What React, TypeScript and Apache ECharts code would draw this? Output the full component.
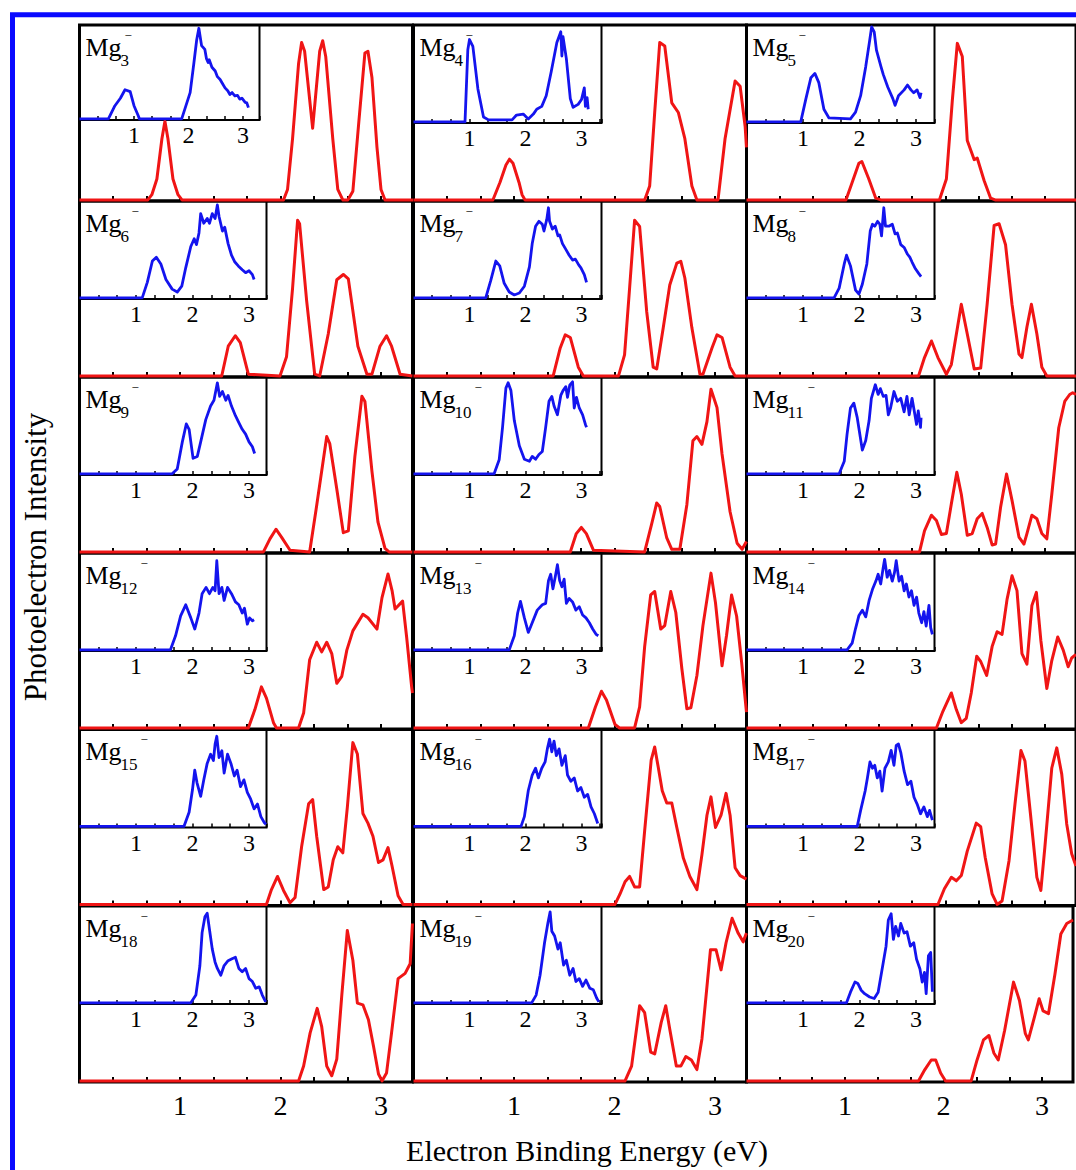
import React, { useEffect, useRef } from 'react';
import * as echarts from 'echarts';

// ---------- data (x: eV, y: relative intensity) ----------
const CLUSTERS = [3, 4, 5, 6, 7, 8, 9, 10, 11, 12, 13, 14, 15, 16, 17, 18, 19, 20];
const AXIS_TICK_LABELS = ['1', '2', '3'];
const X_TITLE = 'Electron Binding Energy (eV)';
const Y_TITLE = 'Photoelectron Intensity';

const RED_MG3 = [[0,0],[0.68,0],[0.72,0.03],[0.77,0.12],[0.82,0.35],[0.85,0.45],[0.88,0.35],[0.93,0.12],[0.98,0.03],[1.02,0],[2.03,0],[2.07,0.06],[2.12,0.35],[2.18,0.78],[2.21,0.9],[2.24,0.85],[2.32,0.41],[2.39,0.85],[2.42,0.91],[2.45,0.82],[2.52,0.35],[2.57,0.06],[2.62,0],[2.67,0],[2.72,0.05],[2.78,0.45],[2.84,0.84],[2.87,0.85],[2.91,0.7],[2.96,0.3],[3.0,0.06],[3.04,0],[3.32,0]];
const RED_MG4 = [[0,0],[0.79,0],[0.86,0.1],[0.92,0.2],[0.955,0.233],[0.99,0.21],[1.05,0.1],[1.08,0.03],[1.11,0],[2.3,0],[2.35,0.08],[2.4,0.5],[2.45,0.9],[2.5,0.88],[2.57,0.555],[2.635,0.5],[2.7,0.35],[2.77,0.08],[2.82,0],[3.03,0],[3.1,0.35],[3.2,0.68],[3.25,0.65],[3.3,0.42],[3.313,0.3]];
const RED_MG5 = [[0,0],[1.0,0],[1.05,0.08],[1.13,0.21],[1.16,0.22],[1.23,0.12],[1.3,0.01],[1.35,0],[1.94,0],[2.01,0.12],[2.07,0.57],[2.12,0.895],[2.17,0.82],[2.22,0.34],[2.29,0.23],[2.32,0.24],[2.39,0.11],[2.455,0.01],[2.5,0],[3.313,0]];
const RED_MG6 = [[0,0],[1.415,0],[1.48,0.17],[1.55,0.23],[1.6,0.19],[1.68,0.01],[1.995,0],[2.06,0.11],[2.12,0.5],[2.17,0.89],[2.19,0.87],[2.26,0.43],[2.34,0.01],[2.39,0],[2.475,0.24],[2.56,0.55],[2.625,0.58],[2.675,0.555],[2.77,0.17],[2.86,0.01],[2.91,0.01],[2.99,0.17],[3.055,0.23],[3.105,0.17],[3.19,0.01],[3.313,0]];
const RED_MG7 = [[0,0],[1.39,0],[1.46,0.16],[1.51,0.235],[1.56,0.22],[1.64,0.05],[1.69,0],[2.04,0],[2.1,0.12],[2.15,0.5],[2.2,0.89],[2.25,0.855],[2.32,0.37],[2.385,0.05],[2.42,0.04],[2.485,0.275],[2.55,0.52],[2.62,0.645],[2.66,0.655],[2.7,0.56],[2.77,0.275],[2.85,0.01],[2.88,0.01],[2.97,0.16],[3.02,0.235],[3.07,0.22],[3.15,0.05],[3.2,0],[3.313,0]];
const RED_MG8 = [[0,0],[1.73,0],[1.79,0.105],[1.86,0.2],[1.925,0.105],[2.01,0.01],[2.06,0.065],[2.16,0.41],[2.22,0.24],[2.29,0.04],[2.355,0.045],[2.42,0.41],[2.49,0.86],[2.54,0.87],[2.605,0.75],[2.67,0.41],[2.74,0.125],[2.77,0.105],[2.82,0.28],[2.865,0.41],[2.92,0.24],[2.97,0.05],[3.02,0],[3.313,0]];
const RED_MG9 = [[0,0],[1.83,0],[1.895,0.075],[1.955,0.13],[2.01,0.085],[2.095,0.01],[2.29,0],[2.36,0.265],[2.46,0.66],[2.49,0.62],[2.56,0.36],[2.625,0.11],[2.675,0.12],[2.74,0.545],[2.81,0.89],[2.84,0.86],[2.91,0.46],[2.97,0.17],[3.04,0.02],[3.08,0],[3.313,0]];
const RED_MG10 = [[0,0],[1.56,0],[1.62,0.105],[1.67,0.14],[1.72,0.105],[1.79,0.01],[2.3,0],[2.37,0.16],[2.42,0.28],[2.45,0.26],[2.52,0.08],[2.57,0.015],[2.65,0.015],[2.72,0.27],[2.78,0.635],[2.82,0.66],[2.87,0.615],[2.92,0.745],[2.96,0.93],[3.02,0.825],[3.07,0.56],[3.15,0.23],[3.22,0.05],[3.27,0.015],[3.313,0.06]];
const RED_MG11 = [[0,0],[1.74,0],[1.79,0.12],[1.86,0.21],[1.91,0.18],[1.96,0.1],[2.01,0.105],[2.06,0.275],[2.115,0.455],[2.16,0.33],[2.22,0.095],[2.27,0.105],[2.32,0.19],[2.37,0.22],[2.42,0.14],[2.47,0.04],[2.505,0.045],[2.555,0.255],[2.615,0.445],[2.67,0.295],[2.74,0.085],[2.79,0.045],[2.82,0.105],[2.87,0.21],[2.92,0.19],[2.97,0.105],[3.02,0.075],[3.07,0.33],[3.14,0.71],[3.2,0.86],[3.25,0.9],[3.28,0.91],[3.313,0.9]];
const RED_MG12 = [[0,0],[1.68,0],[1.745,0.105],[1.81,0.235],[1.86,0.17],[1.93,0.03],[1.96,0],[2.18,0],[2.23,0.085],[2.29,0.39],[2.36,0.49],[2.41,0.435],[2.46,0.49],[2.51,0.425],[2.56,0.255],[2.61,0.295],[2.66,0.445],[2.72,0.555],[2.82,0.65],[2.87,0.63],[2.96,0.565],[3.01,0.745],[3.07,0.88],[3.11,0.785],[3.14,0.68],[3.215,0.725],[3.255,0.52],[3.305,0.235],[3.313,0.2]];
const RED_MG13 = [[0,0],[1.74,0],[1.81,0.12],[1.87,0.21],[1.92,0.16],[2.005,0.02],[2.05,0],[2.2,0],[2.25,0.12],[2.3,0.465],[2.36,0.76],[2.4,0.78],[2.46,0.565],[2.5,0.585],[2.56,0.78],[2.61,0.66],[2.67,0.34],[2.72,0.11],[2.76,0.115],[2.82,0.3],[2.88,0.585],[2.96,0.885],[3.005,0.715],[3.07,0.355],[3.115,0.53],[3.165,0.76],[3.215,0.64],[3.265,0.375],[3.313,0.09]];
const RED_MG14 = [[0,0],[1.91,0],[1.975,0.095],[2.06,0.2],[2.11,0.105],[2.16,0.03],[2.21,0.055],[2.26,0.2],[2.315,0.41],[2.355,0.38],[2.415,0.3],[2.47,0.465],[2.52,0.55],[2.57,0.535],[2.62,0.735],[2.67,0.87],[2.72,0.785],[2.77,0.425],[2.82,0.365],[2.87,0.7],[2.915,0.775],[2.96,0.5],[3.02,0.225],[3.07,0.385],[3.13,0.52],[3.185,0.445],[3.235,0.35],[3.27,0.4],[3.313,0.42]];
const RED_MG15 = [[0,0],[1.86,0],[1.91,0.085],[1.97,0.16],[2.03,0.08],[2.095,0.01],[2.145,0.04],[2.21,0.33],[2.28,0.575],[2.32,0.6],[2.36,0.39],[2.43,0.085],[2.475,0.1],[2.525,0.255],[2.57,0.33],[2.62,0.295],[2.665,0.555],[2.72,0.925],[2.765,0.86],[2.82,0.52],[2.87,0.465],[2.92,0.39],[2.975,0.24],[3.02,0.255],[3.07,0.325],[3.11,0.22],[3.17,0.05],[3.22,0],[3.313,0]];
const RED_MG16 = [[0,0],[2.005,0],[2.055,0.06],[2.105,0.13],[2.15,0.16],[2.2,0.1],[2.25,0.1],[2.3,0.42],[2.365,0.825],[2.4,0.9],[2.435,0.785],[2.475,0.65],[2.52,0.58],[2.57,0.58],[2.62,0.44],[2.685,0.265],[2.75,0.16],[2.82,0.085],[2.87,0.285],[2.92,0.51],[2.96,0.615],[3.005,0.44],[3.06,0.51],[3.11,0.635],[3.15,0.51],[3.2,0.21],[3.25,0.165],[3.313,0.145]];
const RED_MG17 = [[0,0],[1.925,0],[1.99,0.09],[2.06,0.155],[2.11,0.135],[2.16,0.165],[2.22,0.305],[2.31,0.465],[2.355,0.445],[2.4,0.27],[2.47,0.06],[2.52,0],[2.57,0.02],[2.64,0.25],[2.7,0.575],[2.76,0.88],[2.8,0.82],[2.855,0.52],[2.92,0.155],[2.96,0.08],[3.0,0.325],[3.07,0.78],[3.12,0.895],[3.17,0.745],[3.22,0.46],[3.27,0.29],[3.313,0.22]];
const RED_MG18 = [[0,0],[2.18,0],[2.23,0.085],[2.295,0.275],[2.365,0.415],[2.41,0.31],[2.46,0.085],[2.51,0.03],[2.56,0.125],[2.61,0.49],[2.665,0.86],[2.72,0.69],[2.765,0.445],[2.82,0.435],[2.875,0.35],[2.925,0.2],[2.975,0.04],[3.01,0],[3.055,0.045],[3.105,0.275],[3.17,0.585],[3.24,0.615],[3.29,0.67],[3.313,0.9]];
const RED_MG19 = [[0,0],[2.105,0],[2.17,0.085],[2.25,0.43],[2.3,0.39],[2.36,0.165],[2.4,0.155],[2.465,0.335],[2.51,0.43],[2.55,0.295],[2.615,0.085],[2.66,0.085],[2.71,0.14],[2.765,0.12],[2.82,0.065],[2.87,0.24],[2.955,0.75],[3.01,0.75],[3.06,0.635],[3.11,0.79],[3.17,0.93],[3.23,0.845],[3.28,0.795],[3.313,0.845]];
const RED_MG20 = [[0,0],[1.745,0],[1.81,0.065],[1.875,0.12],[1.92,0.12],[1.97,0.045],[2.02,0],[2.28,0],[2.34,0.12],[2.405,0.235],[2.46,0.26],[2.51,0.16],[2.555,0.12],[2.62,0.29],[2.71,0.565],[2.77,0.46],[2.83,0.27],[2.86,0.235],[2.915,0.35],[2.97,0.47],[3.01,0.4],[3.065,0.385],[3.13,0.61],[3.19,0.84],[3.25,0.9],[3.313,0.92]];

const BLUE_MG3 = [[0,0],[0.53,0],[0.65,0.14],[0.75,0.22],[0.835,0.31],[0.93,0.29],[1.0,0.14],[1.08,0.03],[1.1,0],[1.875,0],[2.03,0.28],[2.1,0.6],[2.15,0.84],[2.19,0.965],[2.24,0.78],[2.3,0.74],[2.33,0.64],[2.36,0.6],[2.38,0.63],[2.43,0.55],[2.49,0.51],[2.53,0.45],[2.58,0.42],[2.62,0.38],[2.67,0.33],[2.72,0.3],[2.76,0.26],[2.8,0.28],[2.85,0.245],[2.9,0.25],[2.94,0.21],[2.98,0.22],[3.04,0.175],[3.07,0.17],[3.1,0.12]];
const BLUE_MG4 = [[0,0],[0.92,0],[0.97,0.745],[1.0,0.85],[1.06,0.78],[1.15,0.34],[1.25,0.05],[1.34,0.02],[1.76,0.02],[1.84,0.07],[1.96,0.08],[2.05,0.03],[2.14,0.08],[2.2,0.13],[2.29,0.16],[2.37,0.27],[2.46,0.52],[2.56,0.82],[2.63,0.93],[2.65,0.68],[2.67,0.88],[2.73,0.65],[2.8,0.24],[2.85,0.15],[2.94,0.18],[3.0,0.23],[3.05,0.35],[3.07,0.16],[3.1,0.25],[3.12,0.13]];
const BLUE_MG5 = [[0,0],[0.96,0],[1.05,0.235],[1.14,0.456],[1.21,0.5],[1.28,0.405],[1.37,0.13],[1.46,0.04],[1.84,0.03],[1.93,0.1],[2.02,0.27],[2.11,0.57],[2.18,0.84],[2.215,0.98],[2.26,0.93],[2.3,0.74],[2.38,0.57],[2.42,0.49],[2.5,0.36],[2.59,0.24],[2.63,0.17],[2.69,0.27],[2.79,0.33],[2.85,0.38],[2.91,0.33],[2.96,0.3],[3.02,0.33],[3.07,0.25],[3.09,0.3]];
const BLUE_MG6 = [[0,0],[1.11,0],[1.2,0.16],[1.29,0.38],[1.36,0.42],[1.44,0.35],[1.53,0.19],[1.64,0.09],[1.73,0.06],[1.81,0.12],[1.88,0.31],[1.97,0.53],[2.03,0.61],[2.07,0.55],[2.115,0.67],[2.145,0.87],[2.2,0.77],[2.26,0.82],[2.3,0.77],[2.35,0.87],[2.4,0.82],[2.44,0.96],[2.47,0.84],[2.53,0.69],[2.57,0.73],[2.63,0.56],[2.69,0.44],[2.75,0.37],[2.81,0.33],[2.88,0.29],[2.94,0.26],[3.0,0.28],[3.06,0.24],[3.09,0.19]];
const BLUE_MG7 = [[0,0],[1.29,0],[1.38,0.18],[1.47,0.38],[1.54,0.33],[1.62,0.15],[1.71,0.06],[1.8,0.03],[1.89,0.05],[1.98,0.12],[2.07,0.32],[2.12,0.56],[2.18,0.74],[2.24,0.79],[2.3,0.76],[2.33,0.69],[2.38,0.81],[2.41,0.93],[2.43,0.79],[2.48,0.71],[2.53,0.74],[2.58,0.64],[2.61,0.65],[2.66,0.56],[2.72,0.5],[2.78,0.44],[2.84,0.39],[2.89,0.4],[2.95,0.34],[2.99,0.31],[3.05,0.24],[3.09,0.16]];
const BLUE_MG8 = [[0,0],[1.55,0],[1.64,0.1],[1.73,0.35],[1.77,0.44],[1.84,0.33],[1.93,0.08],[1.99,0.04],[2.05,0.14],[2.13,0.35],[2.19,0.69],[2.23,0.76],[2.27,0.74],[2.32,0.79],[2.36,0.76],[2.39,0.64],[2.43,0.93],[2.46,0.74],[2.52,0.74],[2.58,0.76],[2.63,0.66],[2.67,0.67],[2.73,0.55],[2.79,0.52],[2.85,0.45],[2.89,0.42],[2.93,0.37],[2.99,0.3],[3.05,0.25],[3.09,0.22]];
const BLUE_MG9 = [[0,0],[1.64,0],[1.73,0.05],[1.82,0.33],[1.89,0.515],[1.94,0.46],[2.01,0.16],[2.085,0.18],[2.145,0.33],[2.235,0.56],[2.32,0.7],[2.38,0.76],[2.44,0.94],[2.48,0.8],[2.53,0.85],[2.59,0.76],[2.63,0.81],[2.69,0.7],[2.76,0.6],[2.82,0.53],[2.88,0.46],[2.94,0.41],[3.0,0.33],[3.06,0.28],[3.1,0.21]];
const BLUE_MG10 = [[0,0],[1.44,0],[1.53,0.145],[1.59,0.48],[1.65,0.885],[1.69,0.94],[1.74,0.86],[1.8,0.55],[1.89,0.29],[1.98,0.15],[2.07,0.13],[2.12,0.18],[2.18,0.15],[2.24,0.2],[2.3,0.23],[2.36,0.48],[2.42,0.75],[2.47,0.8],[2.51,0.7],[2.57,0.61],[2.63,0.81],[2.67,0.86],[2.72,0.9],[2.75,0.79],[2.79,0.915],[2.84,0.95],[2.87,0.68],[2.91,0.79],[2.96,0.68],[3.02,0.61],[3.07,0.51],[3.09,0.48]];
const BLUE_MG11 = [[0,0],[1.64,0],[1.73,0.13],[1.78,0.41],[1.84,0.68],[1.9,0.73],[1.96,0.58],[2.05,0.245],[2.11,0.345],[2.17,0.55],[2.21,0.78],[2.26,0.88],[2.28,0.92],[2.33,0.82],[2.37,0.88],[2.42,0.8],[2.47,0.81],[2.51,0.61],[2.55,0.68],[2.61,0.85],[2.67,0.75],[2.73,0.78],[2.79,0.64],[2.84,0.8],[2.88,0.61],[2.93,0.78],[2.96,0.68],[3.01,0.51],[3.04,0.65],[3.08,0.48],[3.09,0.58]];
const BLUE_MG12 = [[0,0],[1.61,0],[1.7,0.145],[1.79,0.35],[1.88,0.465],[1.97,0.33],[2.04,0.215],[2.115,0.38],[2.17,0.58],[2.24,0.645],[2.3,0.58],[2.36,0.645],[2.4,0.61],[2.43,0.92],[2.47,0.58],[2.52,0.645],[2.56,0.51],[2.62,0.645],[2.69,0.58],[2.76,0.495],[2.82,0.465],[2.88,0.38],[2.92,0.43],[2.97,0.265],[3.01,0.33],[3.06,0.3],[3.09,0.31]];
const BLUE_MG13 = [[0,0],[1.71,0],[1.8,0.145],[1.86,0.38],[1.91,0.5],[1.98,0.33],[2.05,0.18],[2.12,0.28],[2.21,0.41],[2.3,0.465],[2.36,0.48],[2.41,0.715],[2.45,0.78],[2.49,0.63],[2.53,0.75],[2.57,0.88],[2.61,0.715],[2.65,0.65],[2.69,0.73],[2.73,0.48],[2.78,0.53],[2.84,0.495],[2.9,0.41],[2.96,0.445],[3.02,0.36],[3.08,0.33],[3.14,0.28],[3.2,0.215],[3.26,0.16],[3.3,0.145]];
const BLUE_MG14 = [[0,0],[1.78,0],[1.87,0.07],[1.93,0.22],[1.99,0.355],[2.05,0.41],[2.11,0.34],[2.17,0.51],[2.23,0.625],[2.29,0.71],[2.33,0.78],[2.375,0.68],[2.42,0.85],[2.445,0.935],[2.49,0.75],[2.53,0.82],[2.58,0.71],[2.62,0.8],[2.65,0.92],[2.7,0.71],[2.745,0.76],[2.79,0.61],[2.83,0.68],[2.875,0.545],[2.92,0.61],[2.965,0.46],[3.01,0.545],[3.05,0.38],[3.1,0.28],[3.14,0.395],[3.18,0.245],[3.23,0.46],[3.26,0.23],[3.29,0.16]];
const BLUE_MG15 = [[0,0],[1.85,0],[1.94,0.145],[2.0,0.38],[2.04,0.58],[2.08,0.45],[2.145,0.31],[2.2,0.48],[2.26,0.65],[2.32,0.745],[2.37,0.68],[2.4,0.85],[2.43,0.93],[2.47,0.71],[2.52,0.78],[2.56,0.55],[2.62,0.745],[2.68,0.65],[2.74,0.52],[2.79,0.58],[2.85,0.41],[2.91,0.48],[2.97,0.35],[3.03,0.28],[3.09,0.18],[3.15,0.23],[3.21,0.1],[3.27,0.04],[3.3,0.02]];
const BLUE_MG16 = [[0,0],[1.92,0],[1.98,0.1],[2.05,0.37],[2.12,0.53],[2.18,0.6],[2.23,0.5],[2.29,0.6],[2.35,0.665],[2.39,0.8],[2.43,0.9],[2.47,0.77],[2.51,0.88],[2.55,0.73],[2.6,0.8],[2.65,0.63],[2.71,0.73],[2.75,0.53],[2.81,0.465],[2.87,0.5],[2.93,0.365],[2.99,0.4],[3.05,0.3],[3.11,0.33],[3.17,0.2],[3.23,0.13],[3.29,0.03]];
const BLUE_MG17 = [[0,0],[1.96,0],[2.02,0.165],[2.1,0.365],[2.14,0.5],[2.185,0.665],[2.23,0.6],[2.27,0.63],[2.315,0.5],[2.36,0.57],[2.4,0.365],[2.45,0.6],[2.51,0.665],[2.56,0.785],[2.61,0.63],[2.65,0.835],[2.69,0.85],[2.73,0.765],[2.79,0.57],[2.85,0.43],[2.91,0.465],[2.965,0.3],[3.02,0.23],[3.08,0.13],[3.14,0.2],[3.2,0.1],[3.24,0.165],[3.29,0.065]];
const BLUE_MG18 = [[0,0],[1.97,0],[2.06,0.08],[2.13,0.38],[2.17,0.725],[2.22,0.89],[2.26,0.925],[2.3,0.76],[2.35,0.555],[2.4,0.42],[2.44,0.355],[2.5,0.285],[2.56,0.385],[2.63,0.435],[2.7,0.455],[2.76,0.47],[2.82,0.355],[2.88,0.32],[2.94,0.355],[3.0,0.25],[3.06,0.22],[3.12,0.15],[3.18,0.165],[3.235,0.08],[3.295,0.01]];
const BLUE_MG19 = [[0,0],[2.11,0],[2.19,0.08],[2.26,0.285],[2.34,0.62],[2.4,0.825],[2.44,0.94],[2.47,0.74],[2.52,0.69],[2.58,0.555],[2.62,0.62],[2.68,0.39],[2.73,0.44],[2.79,0.285],[2.85,0.355],[2.9,0.22],[2.96,0.25],[3.02,0.17],[3.08,0.235],[3.15,0.15],[3.21,0.135],[3.27,0.05],[3.31,0.01]];
const BLUE_MG20 = [[0,0],[1.77,0],[1.84,0.11],[1.92,0.215],[1.97,0.2],[2.03,0.13],[2.09,0.095],[2.18,0.06],[2.26,0.045],[2.33,0.11],[2.41,0.38],[2.47,0.585],[2.51,0.855],[2.56,0.92],[2.6,0.655],[2.64,0.79],[2.69,0.69],[2.73,0.82],[2.79,0.72],[2.84,0.735],[2.9,0.585],[2.96,0.62],[3.01,0.45],[3.07,0.35],[3.11,0.215],[3.15,0.315],[3.18,0.095],[3.22,0.485],[3.26,0.52],[3.29,0.115]];

const RED_SPECTRA = [RED_MG3, RED_MG4, RED_MG5, RED_MG6, RED_MG7, RED_MG8, RED_MG9, RED_MG10, RED_MG11, RED_MG12, RED_MG13, RED_MG14, RED_MG15, RED_MG16, RED_MG17, RED_MG18, RED_MG19, RED_MG20];
const BLUE_SPECTRA = [BLUE_MG3, BLUE_MG4, BLUE_MG5, BLUE_MG6, BLUE_MG7, BLUE_MG8, BLUE_MG9, BLUE_MG10, BLUE_MG11, BLUE_MG12, BLUE_MG13, BLUE_MG14, BLUE_MG15, BLUE_MG16, BLUE_MG17, BLUE_MG18, BLUE_MG19, BLUE_MG20];

// ---------- layout / style ----------
const SERIF = "'Liberation Serif', 'Times New Roman', 'DejaVu Serif', serif";
const RED = '#f01515';
const BLUE = '#1414ee';
const FRAME = '#0a0aff';
const COL_LEFT = [79.5, 413.5, 746.5];
const ROW_TOP = [25, 201, 377, 553, 729.5, 906];
const PW = 333;
const PH = 176;
const XMAX = PW / 100.5;

function tickFmt(v: number) {
  const r = Math.round(v);
  if (Math.abs(v - r) < 1e-3 && r >= 1 && r <= AXIS_TICK_LABELS.length) return AXIS_TICK_LABELS[r - 1];
  return '';
}

function buildOption() {
  const grid: any[] = [];
  const xAxis: any[] = [];
  const yAxis: any[] = [];
  const series: any[] = [];
  const graphic: any[] = [];

  CLUSTERS.forEach((n, i) => {
    const r = Math.floor(i / 3);
    const c = i % 3;
    const L = COL_LEFT[c];
    const T = ROW_TOP[r];
    // main panel
    const gi = grid.length;
    grid.push({ left: L, top: T, width: PW, height: PH, show: true, borderColor: '#000', borderWidth: 3, backgroundColor: 'transparent' });
    xAxis.push({
      gridIndex: gi, type: 'value', min: 0, max: XMAX, interval: 1 / 3,
      axisLine: { show: false, onZero: false }, splitLine: { show: false },
      axisTick: { show: true, inside: true, length: 5, lineStyle: { color: '#000', width: 2 } },
      axisLabel: { show: r === 5, formatter: tickFmt, fontSize: 28, fontFamily: SERIF, color: '#000', margin: 9 },
    });
    yAxis.push({ gridIndex: gi, type: 'value', min: -0.006, max: 1, show: false });
    series.push({
      type: 'line', xAxisIndex: gi, yAxisIndex: gi, data: RED_SPECTRA[i], showSymbol: false, symbol: 'none',
      lineStyle: { color: RED, width: 3, join: 'round' }, z: 3, silent: true,
    });

    // inset
    const iW = n === 3 ? 180 : c === 0 ? 187 : 188;
    const ppe = n === 3 ? 54.5 : c === 1 ? 56 : 56.5;
    const iH = n === 3 ? 95 : 98;
    const ii = grid.length;
    grid.push({ left: L, top: T, width: iW, height: iH, show: true, borderColor: '#000', borderWidth: 2, backgroundColor: 'transparent' });
    xAxis.push({
      gridIndex: ii, type: 'value', min: 0, max: iW / ppe, interval: 1 / 3,
      axisLine: { show: false, onZero: false }, splitLine: { show: false },
      axisTick: { show: true, inside: true, length: 4, lineStyle: { color: '#000', width: 1.5 } },
      axisLabel: { show: true, formatter: tickFmt, fontSize: 24, fontFamily: SERIF, color: '#000', margin: 3 },
    });
    yAxis.push({ gridIndex: ii, type: 'value', min: -0.012, max: 1, show: false });
    series.push({
      type: 'line', xAxisIndex: ii, yAxisIndex: ii, data: BLUE_SPECTRA[i], showSymbol: false, symbol: 'none',
      lineStyle: { color: BLUE, width: 2.8, join: 'round' }, z: 4, silent: true,
    });

    // label Mg_n^-
    const sub = String(n);
    graphic.push({
      type: 'text', x: L + 6, y: T + 22, z: 50,
      style: { text: 'Mg', fontSize: 26, fontFamily: SERIF, fill: '#000', align: 'left', verticalAlign: 'middle', textAlign: 'left', textVerticalAlign: 'middle' },
    });
    graphic.push({
      type: 'text', x: L + 41, y: T + 35, z: 50,
      style: { text: sub, fontSize: 17, fontFamily: SERIF, fill: '#000', align: 'left', verticalAlign: 'middle', textAlign: 'left', textVerticalAlign: 'middle' },
    });
    const supX = n === 3 ? L + 45 : sub.length > 1 ? L + 61 : L + 52;
    graphic.push({
      type: 'text', x: supX, y: T + 10, z: 50,
      style: { text: '\u2212', fontSize: 13, fontFamily: SERIF, fill: '#000', align: 'left', verticalAlign: 'middle', textAlign: 'left', textVerticalAlign: 'middle' },
    });
  });

  graphic.push({
    type: 'text', x: 587, y: 1150, z: 50,
    style: { text: X_TITLE, fontSize: 30, fontFamily: SERIF, fill: '#000', align: 'center', verticalAlign: 'middle', textAlign: 'center', textVerticalAlign: 'middle' },
  });
  graphic.push({
    type: 'text', x: 35, y: 557, rotation: Math.PI / 2, z: 50,
    style: { text: Y_TITLE, fontSize: 31, fontFamily: SERIF, fill: '#000', align: 'center', verticalAlign: 'middle', textAlign: 'center', textVerticalAlign: 'middle' },
  });
  graphic.push({
    type: 'rect', z: 60, silent: true,
    shape: { x: 12.5, y: 14.8, width: 1300, height: 1300 },
    style: { fill: 'none', stroke: FRAME, lineWidth: 5 },
  });

  return {
    animation: false,
    backgroundColor: '#ffffff',
    grid, xAxis, yAxis, series, graphic,
  };
}

export default function App() {
  const ref = useRef<HTMLDivElement>(null);
  useEffect(() => {
    if (!ref.current) return;
    const chart = echarts.init(ref.current, undefined, { renderer: 'svg' });
    chart.setOption(buildOption() as any);
    return () => chart.dispose();
  }, []);
  return <div ref={ref} style={{ position: 'absolute', left: 0, top: 0, width: 1076, height: 1170 }} />;
}
